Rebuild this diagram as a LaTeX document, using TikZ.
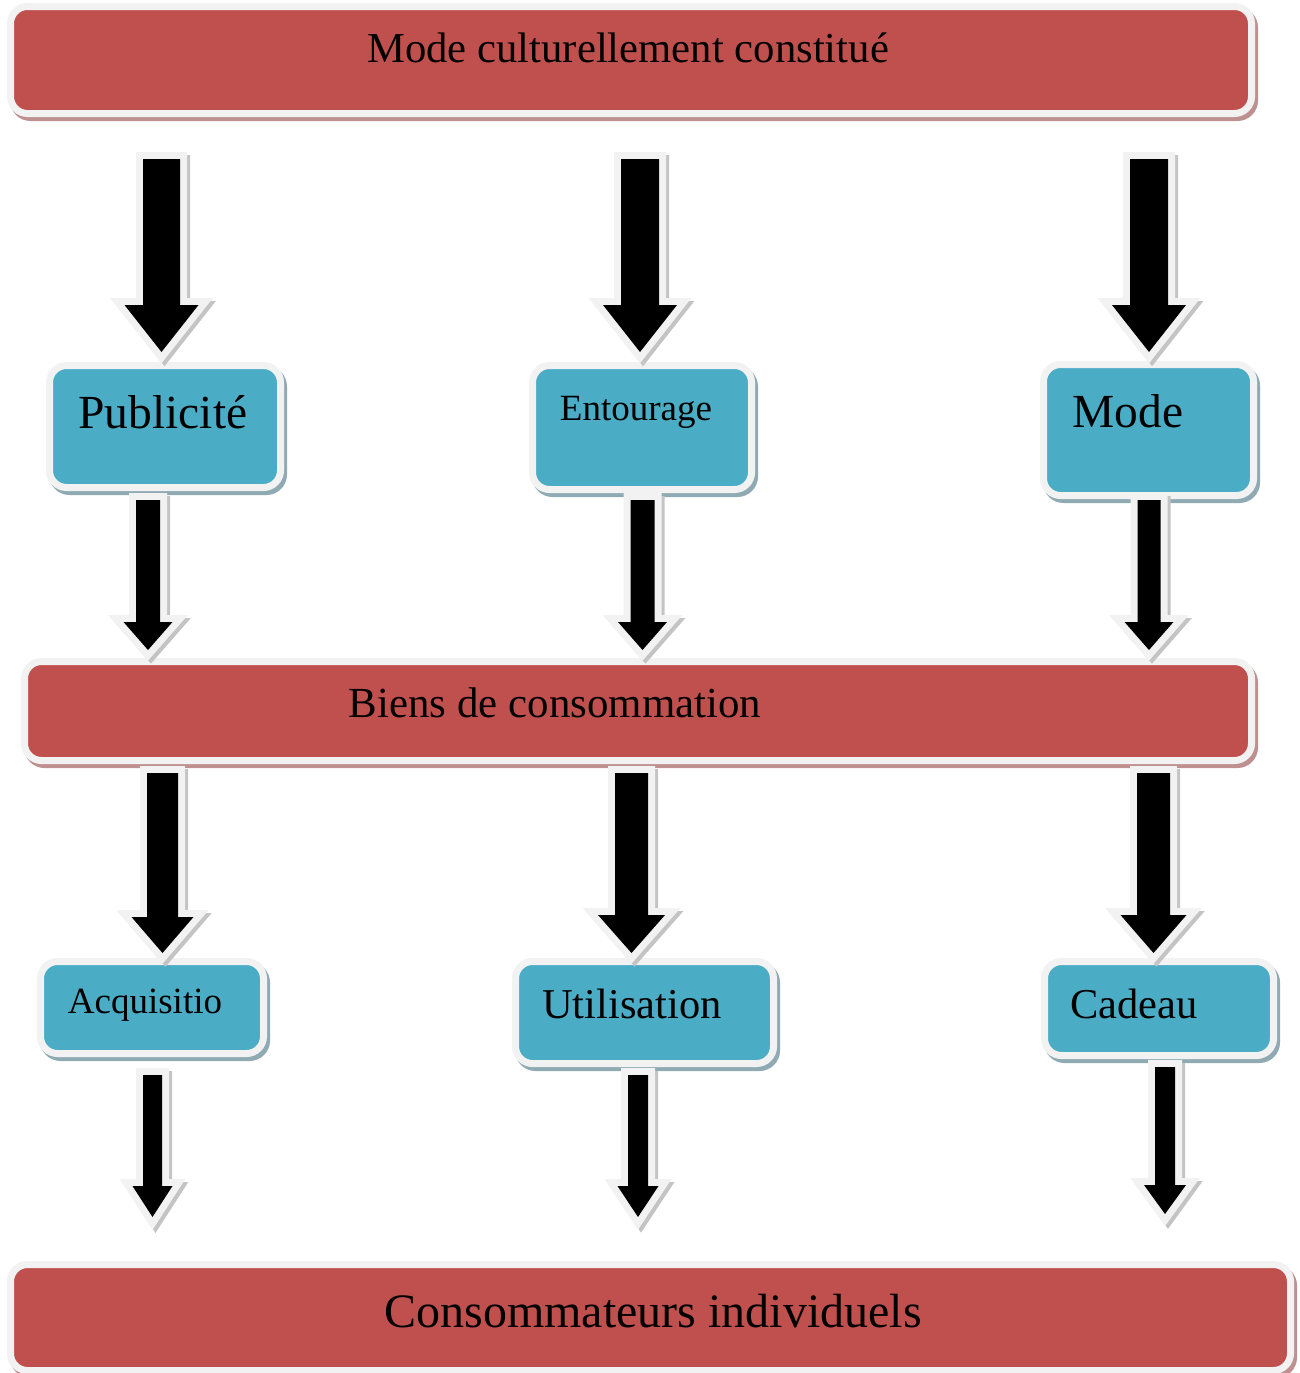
\documentclass[tikz,border=0pt]{standalone}
\usepackage{fontspec}
\setmainfont{Liberation Serif}
\usetikzlibrary{shadows}

\definecolor{barred}{HTML}{C0504D}
\definecolor{tileblue}{HTML}{4BACC6}
\definecolor{edgegray}{HTML}{F2F2F2}
\definecolor{redshade}{HTML}{BE9090}
\definecolor{blueshade}{HTML}{8FAAB2}
\definecolor{arrowshade}{HTML}{C4C4C4}

\tikzset{
  box/.style={rectangle, rounded corners=17pt, draw=edgegray, line width=7pt,
    inner sep=0pt, outer sep=0pt},
  redbox/.style={box, fill=barred,
    general shadow={fill=redshade, draw=redshade, line width=7pt,
      shadow xshift=3pt, shadow yshift=-4pt}},
  bluebox/.style={box, fill=tileblue,
    general shadow={fill=blueshade, draw=blueshade, line width=7pt,
      shadow xshift=3pt, shadow yshift=-4pt}},
  arrowbody/.style={fill=black, line join=miter,
    general shadow={fill=arrowshade, draw=arrowshade, line width=14pt,
      line join=miter, shadow xshift=3pt, shadow yshift=-3pt},
    preaction={draw=edgegray, line width=14pt, line join=miter}},
  lbl/.style={anchor=base, inner sep=0pt, text=black},
}

% block arrow pointing down: centre x, top y, head y, tip y, shaft half width, head half width
\newcommand\blockarr[6]{%
  \path[arrowbody] (#1-#5,#2) -- (#1+#5,#2) -- (#1+#5,#3) -- (#1+#6,#3)
    -- (#1,#4) -- (#1-#6,#3) -- (#1-#5,#3) -- cycle;}

\begin{document}
\begin{tikzpicture}[x=1pt, y=-1pt]
  \useasboundingbox (0,0) rectangle (1299,1373);

  % bars and tiles
  \node[redbox, minimum width=1241pt, minimum height=107pt] (top) at (631,60) {};
  \node[bluebox, minimum width=231pt, minimum height=122pt] (pub) at (165,426.5) {};
  \node[bluebox, minimum width=219pt, minimum height=124pt] (ent) at (642,427.5) {};
  \node[bluebox, minimum width=210pt, minimum height=131pt] (mod) at (1148.5,430) {};
  \node[redbox, minimum width=1227pt, minimum height=99pt] (biens) at (638,711) {};
  \node[bluebox, minimum width=223pt, minimum height=92pt] (acq) at (152,1007.5) {};
  \node[bluebox, minimum width=258pt, minimum height=102pt] (uti) at (644.5,1012.5) {};
  \node[bluebox, minimum width=229pt, minimum height=94pt] (cad) at (1159,1008.5) {};
  \node[redbox, minimum width=1280pt, minimum height=106pt] (cons) at (650.5,1317.5) {};

  % texts
  \node[lbl, font=\fontsize{42.7}{46}\selectfont] (top-t) at (628,62) {Mode culturellement constitué};
  \node[lbl, font=\fontsize{47.5}{50}\selectfont] (pub-t) at (163,428) {Publicité};
  \node[lbl, font=\fontsize{37}{40}\selectfont] (ent-t) at (636,420) {Entourage};
  \node[lbl, font=\fontsize{47.5}{50}\selectfont] (mod-t) at (1128,427) {Mode};
  \node[lbl, font=\fontsize{42.9}{46}\selectfont] (biens-t) at (555,717) {Biens de consommation};
  \node[lbl, font=\fontsize{37}{40}\selectfont] (acq-t) at (145,1013) {Acquisitio};
  \node[lbl, font=\fontsize{42.5}{46}\selectfont] (uti-t) at (632,1018) {Utilisation};
  \node[lbl, font=\fontsize{42.5}{46}\selectfont] (cad-t) at (1134,1018) {Cadeau};
  \node[lbl, font=\fontsize{48}{51}\selectfont] (cons-t) at (653,1327) {Consommateurs individuels};

  % arrows from the top bar to the tiles
  \blockarr{161.5}{159}{305}{352}{18.5}{37}
  \blockarr{640}{159}{305}{352}{19}{37}
  \blockarr{1149}{159}{305}{352}{19}{37}

  % arrows from the tiles to the middle bar
  \blockarr{148}{500}{622}{650}{12}{24.5}
  \blockarr{642.5}{500}{622}{650}{12}{24.5}
  \blockarr{1149}{500}{622}{650}{11.5}{24.5}

  % arrows from the middle bar to the lower tiles
  \blockarr{162.5}{773}{917}{953}{15.5}{31}
  \blockarr{631.5}{773}{915}{953}{16.5}{33.5}
  \blockarr{1153.5}{773}{915}{953}{16.5}{33}

  % arrows from the lower tiles to the bottom bar
  \blockarr{152.5}{1075}{1186}{1217}{9.5}{20}
  \blockarr{638}{1075}{1186}{1217}{10}{20.5}
  \blockarr{1165}{1067}{1185}{1214}{10}{21}
\end{tikzpicture}
\end{document}
